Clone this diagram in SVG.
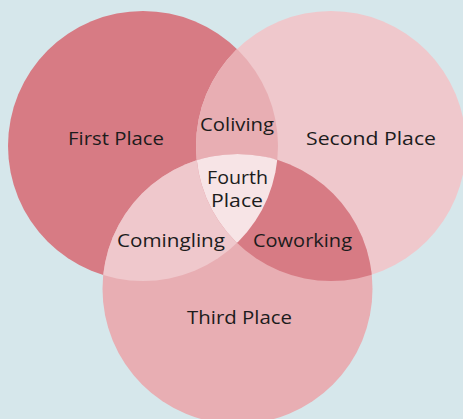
<svg xmlns="http://www.w3.org/2000/svg" width="463" height="419" viewBox="0 0 463 419">
<style>
.lbl{font-family:"Open Sans","Liberation Sans",sans-serif;font-size:18px;fill:#1c1c1c;text-anchor:middle}
.dark{fill:#d77b84}
.light{fill:#efc8cc}
.mid{fill:#e8aeb3}
.center{fill:#f7e4e6}
</style>
<defs>
<clipPath id="clip1"><circle cx="143" cy="146" r="135"/></clipPath>
<clipPath id="clip2"><circle cx="331" cy="146" r="135"/></clipPath>
</defs>
<rect width="463" height="419" fill="#d6e7eb"/>
<g id="first-place">
<circle class="dark" cx="143" cy="146" r="135"/>
</g>
<g id="second-place">
<circle class="light" cx="331" cy="146" r="135"/>
</g>
<g id="third-place">
<circle class="mid" cx="237.5" cy="289" r="135"/>
</g>
<g id="coliving">
<circle class="mid" cx="331" cy="146" r="135" clip-path="url(#clip1)"/>
</g>
<g id="comingling">
<circle class="light" cx="237.5" cy="289" r="135" clip-path="url(#clip1)"/>
</g>
<g id="coworking">
<circle class="dark" cx="237.5" cy="289" r="135" clip-path="url(#clip2)"/>
</g>
<g id="fourth-place">
<g clip-path="url(#clip1)"><circle class="center" cx="237.5" cy="289" r="135" clip-path="url(#clip2)"/></g>
</g>
<g id="labels">
<text class="lbl" x="116" y="145" textLength="96" lengthAdjust="spacingAndGlyphs">First Place</text>
<text class="lbl" x="371" y="145" textLength="130" lengthAdjust="spacingAndGlyphs">Second Place</text>
<text class="lbl" x="239.5" y="324" textLength="105" lengthAdjust="spacingAndGlyphs">Third Place</text>
<text class="lbl" x="237" y="131" textLength="74" lengthAdjust="spacingAndGlyphs">Coliving</text>
<text class="lbl" x="171" y="247" textLength="108" lengthAdjust="spacingAndGlyphs">Comingling</text>
<text class="lbl" x="302.5" y="247" textLength="99" lengthAdjust="spacingAndGlyphs">Coworking</text>
<text class="lbl" x="237.5" y="184" textLength="61" lengthAdjust="spacingAndGlyphs">Fourth</text>
<text class="lbl" x="237" y="207" textLength="52" lengthAdjust="spacingAndGlyphs">Place</text>
</g>
</svg>
